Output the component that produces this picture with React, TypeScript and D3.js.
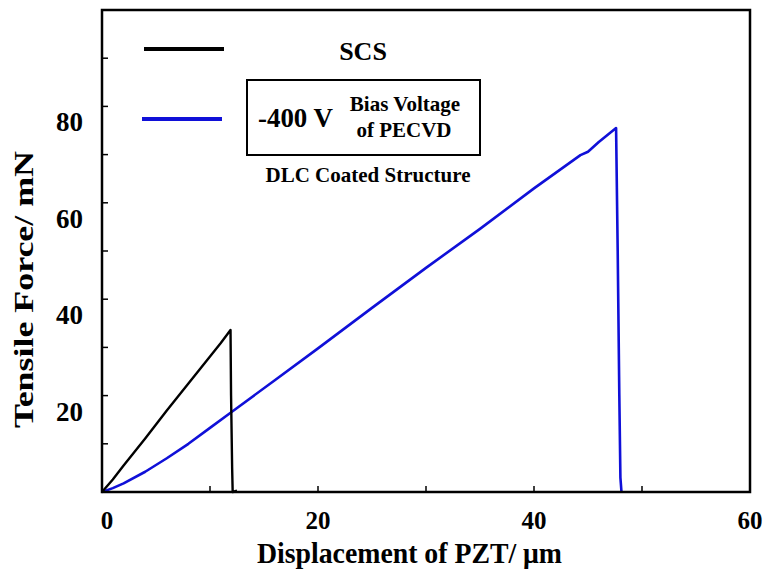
import React from "react";
import * as d3 from "d3";

const scsX = [0, 1, 2, 3, 4, 5, 6, 7, 8, 9, 10, 11, 11.9, 11.95, 12.05, 12.1, 12.5];
const scsY = [0, 2.6, 5.5, 8.3, 11.1, 14, 16.9, 19.7, 22.5, 25.3, 28.1, 30.9, 33.6, 20, 5, 0, 0.3];
const dlcX = [0, 1, 2, 4, 6, 8, 10, 12, 16, 20, 25, 30, 35, 40, 44.3, 45, 46, 47.6, 47.75, 47.9, 48.0, 48.1];
const dlcY = [0, 0.8, 1.8, 4.2, 7, 10, 13.3, 16.6, 23.2, 29.8, 38.2, 46.5, 54.6, 63, 69.9, 70.6, 72.6, 75.5, 50, 20, 3, 0];
const xTickLabels = [0, 20, 40, 60];
const yTickLabels = [20, 40, 60, 80];
const xTicks = [0, 10, 20, 30, 40, 50, 60];
const yTicks = [0, 10, 20, 30, 40, 50, 60, 70, 80, 90, 100];

const L = 102, R = 750, T = 10, B = 492;
const FONT = '"Liberation Serif", "DejaVu Serif", serif';

export default function App() {
  const x = d3.scaleLinear().domain([0, 60]).range([L, R]);
  const y = d3.scaleLinear().domain([0, 100]).range([B, T]);
  const line = d3.line<[number, number]>().x(d => x(d[0])).y(d => y(d[1]));
  const scs = line(scsX.map((v, i) => [v, scsY[i]]) as [number, number][]) || "";
  const dlc = line(dlcX.map((v, i) => [v, dlcY[i]]) as [number, number][]) || "";
  return (
    <svg width={767} height={571} style={{ position: "absolute", left: 0, top: 0, background: "#fff", fontFamily: FONT, fontWeight: "bold" }}>
      <rect x={0} y={0} width={767} height={571} fill="#fff" />
      {xTicks.map(t => (
        <line key={"xt" + t} x1={x(t)} x2={x(t)} y1={B} y2={B - 6} stroke="#000" strokeWidth={1.5} />
      ))}
      {yTicks.map(t => (
        <line key={"yt" + t} x1={L} x2={L + 6} y1={y(t)} y2={y(t)} stroke="#000" strokeWidth={1.5} />
      ))}
      <path d={dlc} fill="none" stroke="#1010d8" strokeWidth={2.6} strokeLinejoin="round" />
      <path d={scs} fill="none" stroke="#000" strokeWidth={2.4} strokeLinejoin="round" />
      <rect x={L} y={T} width={R - L} height={B - T} fill="none" stroke="#000" strokeWidth={2.5} />
      {xTickLabels.map(t => (
        <text key={"xl" + t} x={x(t) + (t === 0 ? 5 : 0)} y={529} textAnchor="middle" fontSize={25}>{t}</text>
      ))}
      {yTickLabels.map(t => (
        <text key={"yl" + t} x={83} y={y(t) + 25} textAnchor="end" fontSize={27}>{t}</text>
      ))}
      <text x={257} y={563} fontSize={29} textLength={305} lengthAdjust="spacingAndGlyphs">Displacement of PZT/ μm</text>
      <text transform={`translate(33,428) rotate(-90)`} fontSize={27} textLength={277} lengthAdjust="spacingAndGlyphs">Tensile Force/ mN</text>
      <line x1={144} x2={224} y1={49} y2={49} stroke="#000" strokeWidth={4} />
      <text x={363} y={60} textAnchor="middle" fontSize={26}>SCS</text>
      <line x1={142} x2={222} y1={119} y2={119} stroke="#1010d8" strokeWidth={4} />
      <rect x={247} y={80} width={233} height={75} fill="none" stroke="#000" strokeWidth={2} />
      <text x={258} y={127} fontSize={27} textLength={75} lengthAdjust="spacingAndGlyphs">-400 V</text>
      <text x={405} y={111} textAnchor="middle" fontSize={21}>Bias Voltage</text>
      <text x={404} y={137} textAnchor="middle" fontSize={21}>of PECVD</text>
      <text x={368} y={182} textAnchor="middle" fontSize={21}>DLC Coated Structure</text>
    </svg>
  );
}
